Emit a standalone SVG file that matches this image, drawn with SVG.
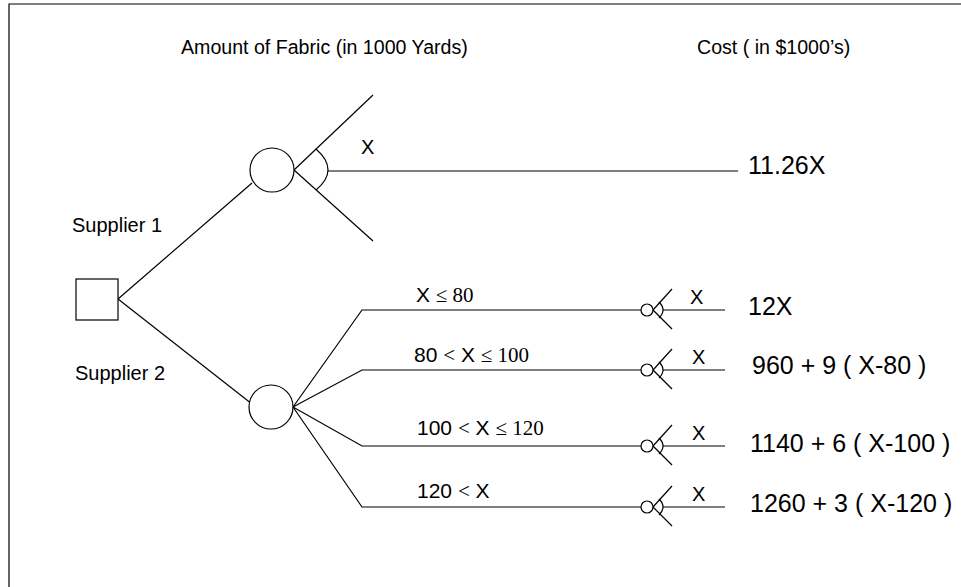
<svg xmlns="http://www.w3.org/2000/svg" width="961" height="587" viewBox="0 0 961 587">
<style>
.ln{stroke:#000;stroke-width:1.2;fill:none}
.nd{stroke:#000;stroke-width:1.2;fill:#fff}
.a{font-family:"Liberation Sans",Arial,sans-serif;fill:#000}
.t{font-family:"Liberation Serif","Times New Roman",serif}
.h{font-size:19.6px}
.s{font-size:20px}
.k{font-size:21px}
.c{font-size:25px}
</style>
<rect width="961" height="587" fill="#fff"/>
<path d="M9,600 V4 H965" class="ln" stroke-width="1.6"/>
<g id="headers">
<text class="a h" x="181" y="54">Amount of Fabric (in 1000 Yards)</text>
<text class="a h" x="697" y="54">Cost ( in $1000’s)</text>
</g>
<g id="connectors">
<line class="ln" x1="118" y1="299" x2="252" y2="183"/>
<line class="ln" x1="118" y1="299" x2="252" y2="404"/>
<line class="ln" x1="294" y1="170" x2="373" y2="95"/>
<line class="ln" x1="294" y1="170" x2="373" y2="241"/>
<path class="ln" d="M316,149 Q340,170 316,190"/>
<line class="ln" x1="328" y1="171" x2="738" y2="171"/>
<polyline class="ln" points="293,407 362,310 641,310"/>
<polyline class="ln" points="293,407 362,370 641,370"/>
<polyline class="ln" points="293,407 362,446 641,446"/>
<polyline class="ln" points="293,407 362,507 641,507"/>
</g>
<g id="decision">
<rect class="nd" x="76" y="279" width="42" height="41"/>
</g>
<g id="chance1">
<circle class="nd" cx="272" cy="170" r="22"/>
</g>
<g id="chance2">
<circle class="nd" cx="271" cy="407" r="22"/>
</g>
<g id="end1">
<g transform="translate(0,310)">
<line class="ln" x1="653" y1="0" x2="672" y2="-21"/>
<line class="ln" x1="653" y1="0" x2="672" y2="19"/>
<path class="ln" d="M659,-8 Q667,0 659,8"/>
<line class="ln" x1="663" y1="0" x2="725" y2="0"/>
<circle class="nd" cx="647" cy="0" r="6"/>
</g>
</g>
<g id="end2">
<g transform="translate(0,370)">
<line class="ln" x1="653" y1="0" x2="672" y2="-21"/>
<line class="ln" x1="653" y1="0" x2="672" y2="19"/>
<path class="ln" d="M659,-8 Q667,0 659,8"/>
<line class="ln" x1="663" y1="0" x2="725" y2="0"/>
<circle class="nd" cx="647" cy="0" r="6"/>
</g>
</g>
<g id="end3">
<g transform="translate(0,446)">
<line class="ln" x1="653" y1="0" x2="672" y2="-21"/>
<line class="ln" x1="653" y1="0" x2="672" y2="19"/>
<path class="ln" d="M659,-8 Q667,0 659,8"/>
<line class="ln" x1="663" y1="0" x2="725" y2="0"/>
<circle class="nd" cx="647" cy="0" r="6"/>
</g>
</g>
<g id="end4">
<g transform="translate(0,507)">
<line class="ln" x1="653" y1="0" x2="672" y2="-21"/>
<line class="ln" x1="653" y1="0" x2="672" y2="19"/>
<path class="ln" d="M659,-8 Q667,0 659,8"/>
<line class="ln" x1="663" y1="0" x2="725" y2="0"/>
<circle class="nd" cx="647" cy="0" r="6"/>
</g>
</g>
<g id="labels">
<text class="a s" x="72" y="232">Supplier 1</text>
<text class="a s" x="75" y="380">Supplier 2</text>
<text class="a s" x="361" y="154">X</text>
<text class="a k" x="416" y="302">X <tspan class="t">≤ 80</tspan></text>
<text class="a k" x="414" y="362">80 <tspan class="t">&lt;</tspan> X <tspan class="t">≤ 100</tspan></text>
<text class="a k" x="417" y="435">100 <tspan class="t">&lt;</tspan> X <tspan class="t">≤ 120</tspan></text>
<text class="a k" x="417" y="498">120 <tspan class="t">&lt;</tspan> X</text>
<text class="a s" x="690" y="304">X</text>
<text class="a s" x="692" y="364">X</text>
<text class="a s" x="692" y="440">X</text>
<text class="a s" x="692" y="501">X</text>
<text class="a c" x="748" y="174">11.26X</text>
<text class="a c" x="748" y="315">12X</text>
<text class="a c" x="752" y="374">960 + 9 ( X-80 )</text>
<text class="a c" x="750" y="452">1140 + 6 ( X-100 )</text>
<text class="a c" x="750" y="512">1260 + 3 ( X-120 )</text>
</g>
</svg>
